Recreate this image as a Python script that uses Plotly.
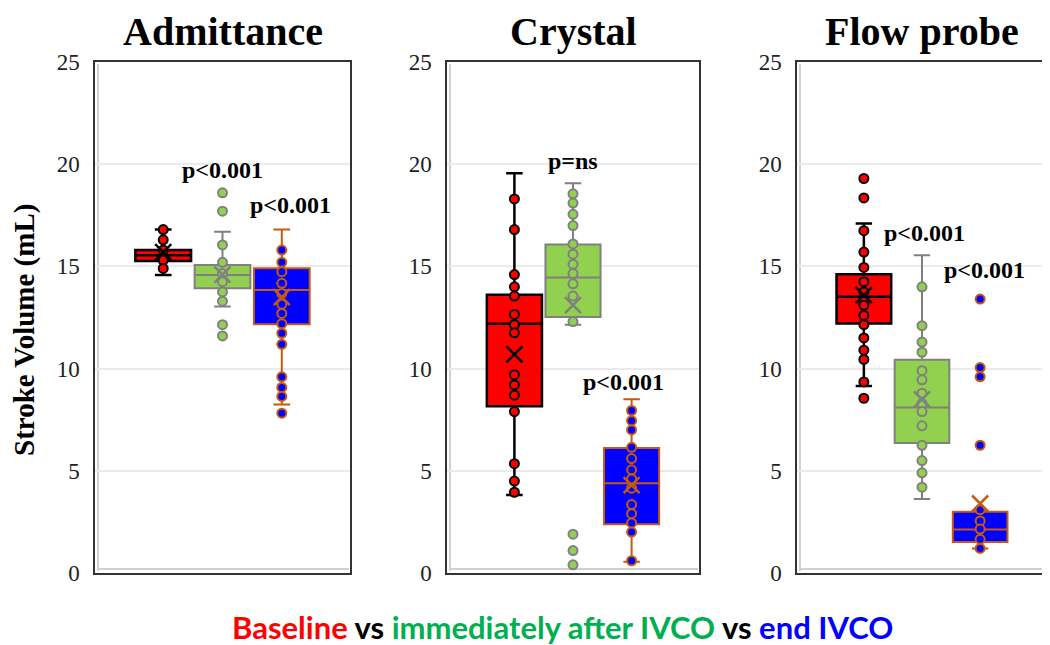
import plotly.graph_objects as go
from plotly.subplots import make_subplots

panels = ['Admittance', 'Crystal', 'Flow probe']
groups = ['Baseline', 'Immediately after IVCO', 'End IVCO']

# points shown on each box
adm_base_pts = [16.8, 16.3, 15.8, 15.3, 14.9]
adm_imm_pts = [18.6, 17.7, 16.05, 15.2, 14.65, 14.25, 13.75, 13.3, 12.15, 11.6]
adm_end_pts = [15.8, 15.2, 14.74, 14.17, 13.68, 13.15, 12.7, 12.2, 11.73, 11.19, 9.6, 9.08, 8.64, 7.82]

cry_base_pts = [18.3, 16.8, 14.6, 14.0, 13.55, 12.65, 12.15, 11.75, 9.7, 9.2, 8.7, 7.9, 5.35, 4.5, 3.95]
cry_imm_pts = [18.55, 18.1, 17.55, 17.0, 16.1, 15.6, 15.1, 14.65, 14.15, 13.55, 12.3, 1.9, 1.1, 0.4]
cry_end_pts = [7.95, 7.45, 7.0, 6.15, 5.6, 5.05, 4.6, 4.15, 3.35, 2.9, 2.45, 2.0, 0.6]

flow_base_pts = [19.3, 18.35, 16.75, 15.7, 14.95, 14.25, 13.75, 13.1, 12.6, 12.15, 11.5, 10.9, 10.45, 9.35, 8.55]
flow_imm_pts = [14.0, 12.1, 11.3, 10.8, 9.9, 9.45, 8.8, 8.3, 7.9, 7.2, 6.25, 5.5, 4.9, 4.2]
flow_end_pts = [13.4, 10.05, 9.6, 6.25, 3.1, 2.55, 2.15, 1.65, 1.2]

# box stats per panel, order: baseline, immediately after, end
adm_q1 = [15.27, 13.93, 12.17]
adm_med = [15.55, 14.58, 13.85]
adm_q3 = [15.8, 15.07, 14.91]
adm_lo = [14.58, 13.04, 8.24]
adm_hi = [16.8, 16.7, 16.81]
adm_mean = [15.7, 14.6, 13.5]

cry_q1 = [8.16, 12.52, 2.38]
cry_med = [12.2, 14.46, 4.39]
cry_q3 = [13.61, 16.07, 6.11]
cry_lo = [3.82, 12.15, 0.55]
cry_hi = [19.56, 19.07, 8.5]
cry_mean = [10.7, 13.1, 4.3]

flow_q1 = [12.21, 6.36, 1.52]
flow_med = [13.52, 8.1, 2.13]
flow_q3 = [14.62, 10.43, 3.0]
flow_lo = [9.15, 3.62, 1.2]
flow_hi = [17.1, 15.54, 3.0]
flow_mean = [13.6, 8.5, 3.4]

# p-value labels
p_labels = [['p<0.001', 'p<0.001'], ['p=ns', 'p<0.001'], ['p<0.001', 'p<0.001']]
p_y = [[19.7, 18.0], [20.15, 9.35], [16.65, 14.8]]
p_x = [[0.5, 0.765], [0.5, 0.70], [0.51, 0.75]]

y_ticks = [0, 5, 10, 15, 20, 25]

fills = ['#FF0000', '#92D050', '#0000FF']
edges = ['#000000', '#808080', '#C55A11']

data = [
    ([adm_base_pts, adm_imm_pts, adm_end_pts], adm_q1, adm_med, adm_q3, adm_lo, adm_hi, adm_mean),
    ([cry_base_pts, cry_imm_pts, cry_end_pts], cry_q1, cry_med, cry_q3, cry_lo, cry_hi, cry_mean),
    ([flow_base_pts, flow_imm_pts, flow_end_pts], flow_q1, flow_med, flow_q3, flow_lo, flow_hi, flow_mean),
]

W, H = 1050, 645
OFF = 8  # page body margin


def px_x(px):
    return (px - OFF) / W


def px_y(py):
    return 1 - (py - OFF) / H


fig = make_subplots(rows=1, cols=3)

serif = 'Liberation Serif, Times New Roman, serif'

for c, (pts, q1, med, q3, lo, hi, mean) in enumerate(data):
    for g in range(3):
        fig.add_trace(go.Box(
            x=[groups[g]], q1=[q1[g]], median=[med[g]], q3=[q3[g]],
            lowerfence=[lo[g]], upperfence=[hi[g]],
            boxpoints=False, width=0.94, whiskerwidth=0.3,
            fillcolor=fills[g], line=dict(color=edges[g], width=2.5 if g == 0 else 2),
            showlegend=False, hoverinfo='skip'
        ), row=1, col=c + 1)
    for g in range(3):
        fig.add_trace(go.Scatter(
            x=[groups[g]] * len(pts[g]), y=pts[g], mode='markers',
            marker=dict(size=9, color=fills[g], line=dict(color=edges[g], width=2)),
            showlegend=False, hoverinfo='skip'
        ), row=1, col=c + 1)
        fig.add_trace(go.Scatter(
            x=[groups[g]], y=[mean[g]], mode='markers',
            marker=dict(symbol='x-thin', size=16, line=dict(color=edges[g], width=2.5)),
            showlegend=False, hoverinfo='skip'
        ), row=1, col=c + 1)

domains = [[95, 350], [447, 699], [797, 1047]]
for c in range(3):
    xr = 'x domain' if c == 0 else f'x{c + 1} domain'
    yr = 'y' if c == 0 else f'y{c + 1}'
    yd = 'y domain' if c == 0 else f'y{c + 1} domain'
    fig.update_xaxes(domain=[px_x(domains[c][0]), px_x(domains[c][1])], type='category',
                     range=[-1.15, 3.15], automargin=False,
                     showticklabels=False, showgrid=False, zeroline=False,
                     showline=True, mirror=True, linecolor='#333333', linewidth=1.5,
                     row=1, col=c + 1)
    fig.update_yaxes(domain=[px_y(573), px_y(62)], range=[0, 25], tickvals=y_ticks,
                     automargin=False,
                     showgrid=True, gridcolor='#EBEBEB', gridwidth=1.5, zeroline=False,
                     showline=True, mirror=True, linecolor='#333333', linewidth=1.5,
                     ticks='', ticklabelstandoff=9,
                     tickfont=dict(family=serif, size=23, color='#222222'),
                     row=1, col=c + 1)
    # light inner shadow of the frame
    fig.add_shape(type='line', xref=xr, yref=yd, x0=0.012, x1=0.012, y0=0.004, y1=0.996,
                  line=dict(color='#D0D0D0', width=2), layer='below')
    fig.add_shape(type='line', xref=xr, yref=yd, x0=0.012, x1=0.996, y0=0.008, y1=0.008,
                  line=dict(color='#D0D0D0', width=2), layer='below')
    fig.add_annotation(text=f'<b>{panels[c]}</b>', xref=xr, x=0.5, yref='paper', y=px_y(31),
                       xanchor='center', yanchor='middle',
                       showarrow=False, font=dict(family=serif, size=40, color='#000000'))
    for k in range(2):
        fig.add_annotation(text=f'<b>{p_labels[c][k]}</b>', xref=xr, x=p_x[c][k], yref=yr, y=p_y[c][k],
                           xanchor='center', yanchor='middle',
                           showarrow=False, font=dict(family=serif, size=24, color='#000000'))

fig.add_annotation(text='<b>Stroke Volume (mL)</b>', textangle=-90, xref='paper', x=px_x(24),
                   yref='paper', y=px_y(330), xanchor='center', yanchor='middle', showarrow=False,
                   font=dict(family=serif, size=29, color='#000000'))

legend_text = ('<span style="color:#FF0000">Baseline</span> '
               '<span style="color:#000000">vs</span> '
               '<span style="color:#00B050">immediately after IVCO</span> '
               '<span style="color:#000000">vs</span> '
               '<span style="color:#0000FF">end IVCO</span>')
fig.add_annotation(text=f'<b>{legend_text}</b>', xref='paper', x=px_x(562), yref='paper',
                   y=px_y(627), xanchor='center', yanchor='middle', showarrow=False,
                   font=dict(family='Lato, Open Sans, sans-serif', size=31))

fig.update_layout(
    width=W, height=H,
    margin=dict(l=0, r=0, t=0, b=0),
    plot_bgcolor='white', paper_bgcolor='white',
)

fig.write_html("out.html")
